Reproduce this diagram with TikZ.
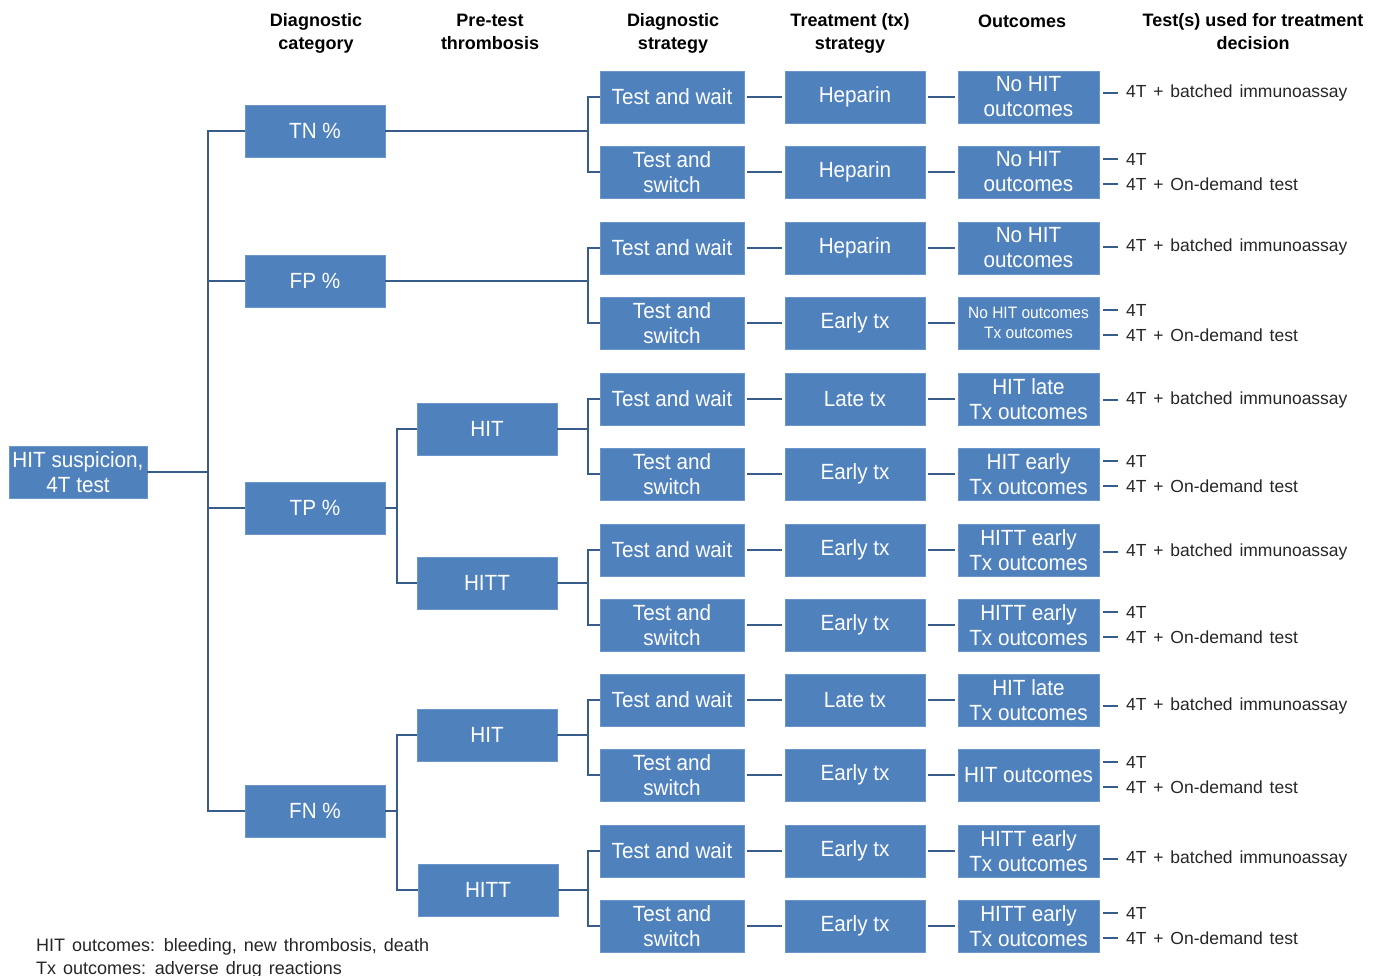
\documentclass[tikz,border=0pt]{standalone}
\usepackage{fontspec}
\setmainfont{Liberation Sans}
\newfontfamily\boxfont[FakeStretch=0.94]{Liberation Sans}
\newfontfamily\testfont[WordSpace=1.65]{Liberation Sans}
\newfontfamily\footfont[WordSpace=1.4]{Liberation Sans}
\definecolor{boxblue}{HTML}{4F81BD}
\definecolor{boxedge}{HTML}{6A96CC}
\definecolor{linkblue}{HTML}{385D8A}
\tikzset{
  bx/.style={rectangle, fill=boxblue, draw=boxedge, line width=0.8pt, text=white,
    minimum width=140pt, minimum height=52pt, align=center, inner sep=1pt,
    font=\boxfont\fontsize{22}{25}\selectfont},
  bxs/.style={bx, minimum width=144pt},
  hdr/.style={align=center, font=\bfseries\fontsize{18}{23}\selectfont, inner sep=0pt},
  tst/.style={anchor=west, inner sep=0pt, font=\testfont\fontsize{17.5}{20}\selectfont, text=black!85},
  lnk/.style={draw=linkblue, line width=2pt},
  dsh/.style={draw=linkblue, line width=2pt},
  foot/.style={anchor=west, inner sep=0pt, font=\footfont\fontsize{18}{20}\selectfont, text=black!85}
}
\begin{document}
\begin{tikzpicture}[x=1pt,y=-1pt]
\useasboundingbox (0,0) rectangle (1384,976);
% headers
\node[hdr] (h1) at (316,33) {Diagnostic\\category};
\node[hdr] (h2) at (490,32) {Pre-test\\thrombosis};
\node[hdr] (h3) at (673,33) {Diagnostic\\strategy};
\node[hdr] (h4) at (850,33) {Treatment (tx)\\strategy};
\node[hdr] (h5) at (1022,21) {Outcomes};
\node[hdr] (h6) at (1253,32) {Test(s) used for treatment\\decision};
% root and level 1
\node[bx, minimum width=138pt] (root) at (78,472) {HIT suspicion,\\4T test};
\node[bx] (tn) at (315,131) {TN \%};
\node[bx] (fp) at (315,281) {FP \%};
\node[bx] (tp) at (315,508) {TP \%};
\node[bx] (fn) at (315,811) {FN \%};
% level 2
\node[bx] (tphit) at (487,429) {HIT};
\node[bx] (tphitt) at (487,583) {HITT};
\node[bx] (fnhit) at (487,735) {HIT};
\node[bx] (fnhitt) at (488,890) {HITT};
% bracket coordinates
\coordinate (bx1) at (208,0);
\coordinate (bx2) at (397,0);
\coordinate (bx3) at (588,0);
% levels 3-5
\foreach \i/\y/\tr/\oc/\of/\ob in {
  1/97/Heparin/{No HIT\\outcomes}/22/25,
  2/172/Heparin/{No HIT\\outcomes}/22/25,
  3/248/Heparin/{No HIT\\outcomes}/22/25,
  4/323/Early tx/{No HIT outcomes\\Tx outcomes}/16.5/20,
  5/399/Late tx/{HIT late\\Tx outcomes}/22/25,
  6/474/Early tx/{HIT early\\Tx outcomes}/22/25,
  7/550/Early tx/{HITT early\\Tx outcomes}/22/25,
  8/625/Early tx/{HITT early\\Tx outcomes}/22/25,
  9/700/Late tx/{HIT late\\Tx outcomes}/22/25,
  10/775/Early tx/{HIT outcomes}/22/25,
  11/851/Early tx/{HITT early\\Tx outcomes}/22/25,
  12/926/Early tx/{HITT early\\Tx outcomes}/22/25}{
  \pgfmathparse{int(mod(\i,2))}
  \ifnum\pgfmathresult=1
    \node[bxs] (s\i) at (672,\y) {Test and wait};
  \else
    \node[bxs] (s\i) at (672,\y) {Test and\\switch};
  \fi
  \node[bx] (t\i) at (855,\y) {\tr};
  \node[bx, minimum width=141pt, font=\boxfont\fontsize{\of}{\ob}\selectfont] (o\i) at (1028.5,\y) {\oc};
  \draw[lnk] ([xshift=3pt]s\i.east) -- ([xshift=-3pt]t\i.west);
  \draw[lnk] ([xshift=3pt]t\i.east) -- ([xshift=-3pt]o\i.west);
}
% test labels
\foreach \i/\y in {1/93,3/247,5/400,7/552,9/706,11/859}{
  \node[tst] (da\i) at (1126,\y) {4T + batched immunoassay};
  \draw[dsh] ([xshift=-8pt]da\i.west) -- ([xshift=-23pt]da\i.west);
}
\foreach \i/\y in {2/172,4/323,6/474,8/625,10/775,12/926}{
  \node[tst] (db\i) at (1126,\y-13) {4T};
  \node[tst] (dc\i) at (1126,\y+12) {4T + On-demand test};
  \draw[dsh] ([xshift=-8pt]db\i.west) -- ([xshift=-23pt]db\i.west);
  \draw[dsh] ([xshift=-8pt]dc\i.west) -- ([xshift=-23pt]dc\i.west);
}
% root to level 1
\draw[lnk] (root.east) -- (root.east -| bx1);
\draw[lnk] (tn.west) -- (tn.west -| bx1) -- (fn.west -| bx1) -- (fn.west);
\draw[lnk] (fp.west) -- (fp.west -| bx1);
\draw[lnk] (tp.west) -- (tp.west -| bx1);
% level 1 to level 3 (TN, FP)
\draw[lnk] (tn.east) -- (tn.east -| bx3);
\draw[lnk] (fp.east) -- (fp.east -| bx3);
% level 1 to level 2 (TP, FN)
\draw[lnk] (tp.east) -- (tp.east -| bx2);
\draw[lnk] (tphit.west) -- (tphit.west -| bx2) -- (tphitt.west -| bx2) -- (tphitt.west);
\draw[lnk] (fn.east) -- (fn.east -| bx2);
\draw[lnk] (fnhit.west) -- (fnhit.west -| bx2) -- (fnhitt.west -| bx2) -- (fnhitt.west);
% level 2 to level 3
\draw[lnk] (tphit.east) -- (tphit.east -| bx3);
\draw[lnk] (tphitt.east) -- (tphitt.east -| bx3);
\draw[lnk] (fnhit.east) -- (fnhit.east -| bx3);
\draw[lnk] (fnhitt.east) -- (fnhitt.east -| bx3);
% brackets at level 3
\foreach \a/\b in {1/2,3/4,5/6,7/8,9/10,11/12}{
  \draw[lnk] (s\a.west) -- (s\a.west -| bx3) -- (s\b.west -| bx3) -- (s\b.west);
}
% footnote
\node[foot] (f1) at (36,947) {HIT outcomes: bleeding, new thrombosis, death};
\node[foot] (f2) at (36,970) {Tx outcomes: adverse drug reactions};
\end{tikzpicture}
\end{document}
